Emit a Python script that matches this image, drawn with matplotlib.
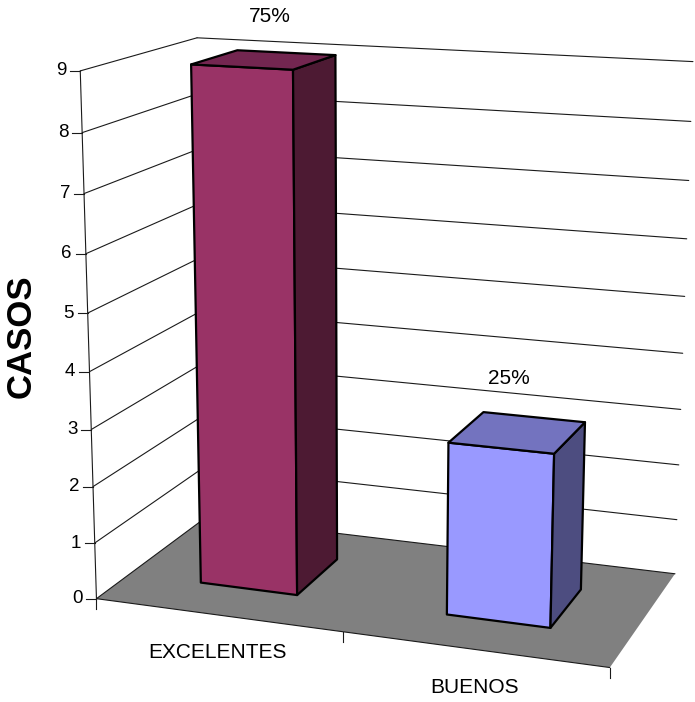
import numpy as np
import matplotlib
matplotlib.use("Agg")
import matplotlib.pyplot as plt
from matplotlib.patches import Polygon

plt.rcParams['font.family'] = ['Liberation Sans', 'DejaVu Sans']

categories = ["EXCELENTES", "BUENOS"]
casos = [9, 3]
porcentajes = ["75%", "25%"]
niveles = list(range(0, 10))

front_colors = ["#993366", "#9999FF"]
top_colors = ["#732650", "#7373BF"]
side_colors = ["#4D1A33", "#4D4D80"]

W, H = 695, 702
ZMAX = 9
BAR_X = (0.3, 0.7)    # bar span inside its category
BAR_D = (0.29, 0.71)  # bar span in depth

# box corners (category x, depth, value) and where they sit on the canvas
box_pts = [
    ((0, 0, 0), (97, 597)),
    ((0, 0, 9), (80, 71)),
    ((0, 1, 9), (196, 38)),
    ((0, 1, 0), (206, 520)),
    ((2, 1, 9), (693, 62)),
    ((2, 1, 0), (675, 572)),
    ((2, 0, 0), (610, 669)),
    ((1, 0, 0), (343, 632)),
    ((0, 1, 8), (199.5, 93)),
    ((0, 1, 1), (204, 466)),
]


def fit_camera(pts):
    rows = []
    for (X, Y, Z), (u, v) in pts:
        p = [X, Y, Z, 1.0]
        rows.append(p + [0.0] * 4 + [-u * c for c in p])
        rows.append([0.0] * 4 + p + [-v * c for c in p])
    _, _, vt = np.linalg.svd(np.array(rows))
    return vt[-1].reshape(3, 4)


P = fit_camera(box_pts)


def proj(x, d, z):
    q = P @ np.array([x, d, z, 1.0])
    return q[0] / q[2], q[1] / q[2]


def line3d(ax, a, b, **kw):
    (u0, v0), (u1, v1) = proj(*a), proj(*b)
    ax.plot([u0, u1], [v0, v1], solid_capstyle='round', **kw)


def face(ax, corners, color, z):
    ax.add_patch(Polygon([proj(*c) for c in corners], closed=True,
                         facecolor=color, edgecolor='black', linewidth=1.6,
                         joinstyle='round', zorder=z))


fig = plt.figure(figsize=(W / 100, H / 100), dpi=100)
ax = fig.add_axes([0, 0, 1, 1])
ax.set_xlim(0, W)
ax.set_ylim(H, 0)
ax.axis('off')

ncat = len(categories)
grid = dict(color='#1a1a1a', linewidth=0.8, zorder=2)

# walls: gridlines on the left and back walls
for z in niveles[1:]:
    line3d(ax, (0, 0, z), (0, 1, z), **grid)
    line3d(ax, (0, 1, z), (ncat, 1, z), **grid)

# floor
ax.add_patch(Polygon([proj(0, 0, 0), proj(ncat, 0, 0), proj(ncat, 1, 0), proj(0, 1, 0)],
                     closed=True, facecolor='#808080', edgecolor='none', zorder=3))
line3d(ax, (0, 0, 0), (0, 1, 0), **dict(grid, zorder=4))
line3d(ax, (0, 1, 0), (ncat, 1, 0), **dict(grid, zorder=4))
line3d(ax, (0, 0, 0), (ncat, 0, 0), **dict(grid, zorder=4))

# value axis with ticks
line3d(ax, (0, 0, 0), (0, 0, ZMAX), **dict(grid, zorder=4))
for z in niveles:
    u, v = proj(0, 0, z)
    ax.plot([u - 10, u], [v, v], color='#1a1a1a', linewidth=0.8, zorder=4)
    ax.text(u - 14, v, str(z), ha='right', va='center', fontsize=13.5)

# category ticks and labels
for i in range(ncat + 1):
    u, v = proj(i, 0, 0)
    ax.plot([u, u], [v, v + 10], color='#1a1a1a', linewidth=0.8, zorder=4)
for i, name in enumerate(categories):
    u, v = proj(i + 0.5, 0, 0)
    ax.text(u, v + 38, name, ha='center', va='center', fontsize=15)

# bars: front, right side, top
pct_offset = [(5, -43), (-9, -54)]
for i, val in enumerate(casos):
    x0, x1 = i + BAR_X[0], i + BAR_X[1]
    d0, d1 = BAR_D
    face(ax, [(x0, d0, 0), (x1, d0, 0), (x1, d0, val), (x0, d0, val)], front_colors[i], 5)
    face(ax, [(x1, d0, 0), (x1, d1, 0), (x1, d1, val), (x1, d0, val)], side_colors[i], 5)
    face(ax, [(x0, d0, val), (x1, d0, val), (x1, d1, val), (x0, d1, val)], top_colors[i], 6)
    u, v = proj(i + 0.5, 0.5, val)
    ax.text(u + pct_offset[i][0], v + pct_offset[i][1], porcentajes[i],
            ha='center', va='center', fontsize=15)

ax.text(21, 336, "CASOS", rotation=90, ha='center', va='center',
        fontsize=25, fontweight='bold')

fig.savefig("out.png", dpi=100)
